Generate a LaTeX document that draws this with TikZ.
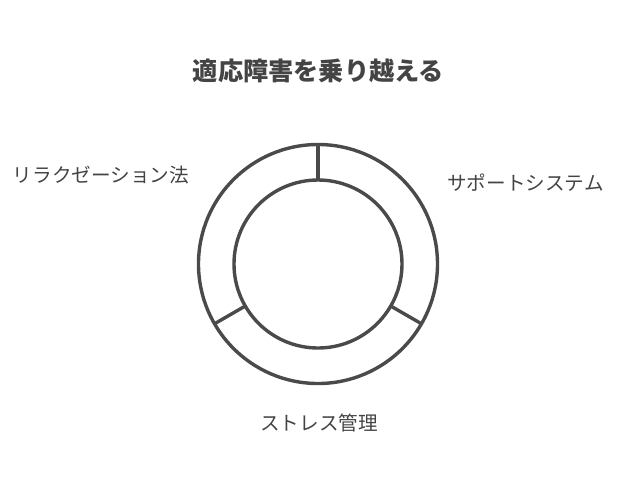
\documentclass[tikz,border=0pt]{standalone}
\usepackage{fontspec}
\newfontfamily\cjk{Noto Sans CJK JP}
\definecolor{ink}{HTML}{4A4A4A}
\definecolor{txt}{HTML}{444444}
\tikzset{
  ring/.style={draw=ink, line width=3.4pt},
  lbl/.style={text=txt, font=\cjk\fontsize{19.6}{22}\selectfont, inner sep=0pt},
  ttl/.style={text=txt, font=\cjk\bfseries\fontsize{25.2}{28}\selectfont, inner sep=0pt}
}
\begin{document}
\begin{tikzpicture}[x=1pt,y=-1pt]
\useasboundingbox (0,0) rectangle (637,480);
\coordinate (c) at (318,264);
\node[ttl] (title) at (318.5,70.5) {適応障害を乗り越える};
\draw[ring] (c) circle[radius=119.5];
\draw[ring] (c) circle[radius=84];
\coordinate (o1) at (318,144.5);
\coordinate (i1) at (318,180);
\coordinate (o2) at (421.5,323.8);
\coordinate (i2) at (390.7,306);
\coordinate (o3) at (214.5,323.8);
\coordinate (i3) at (245.3,306);
\draw[ring] (o1) -- (i1);
\draw[ring] (o2) -- (i2);
\draw[ring] (o3) -- (i3);
\node[lbl] (relax) at (101,175) {リラクゼーション法};
\node[lbl] (support) at (525.5,183) {サポートシステム};
\node[lbl] (stress) at (319,423) {ストレス管理};
\end{tikzpicture}
\end{document}
